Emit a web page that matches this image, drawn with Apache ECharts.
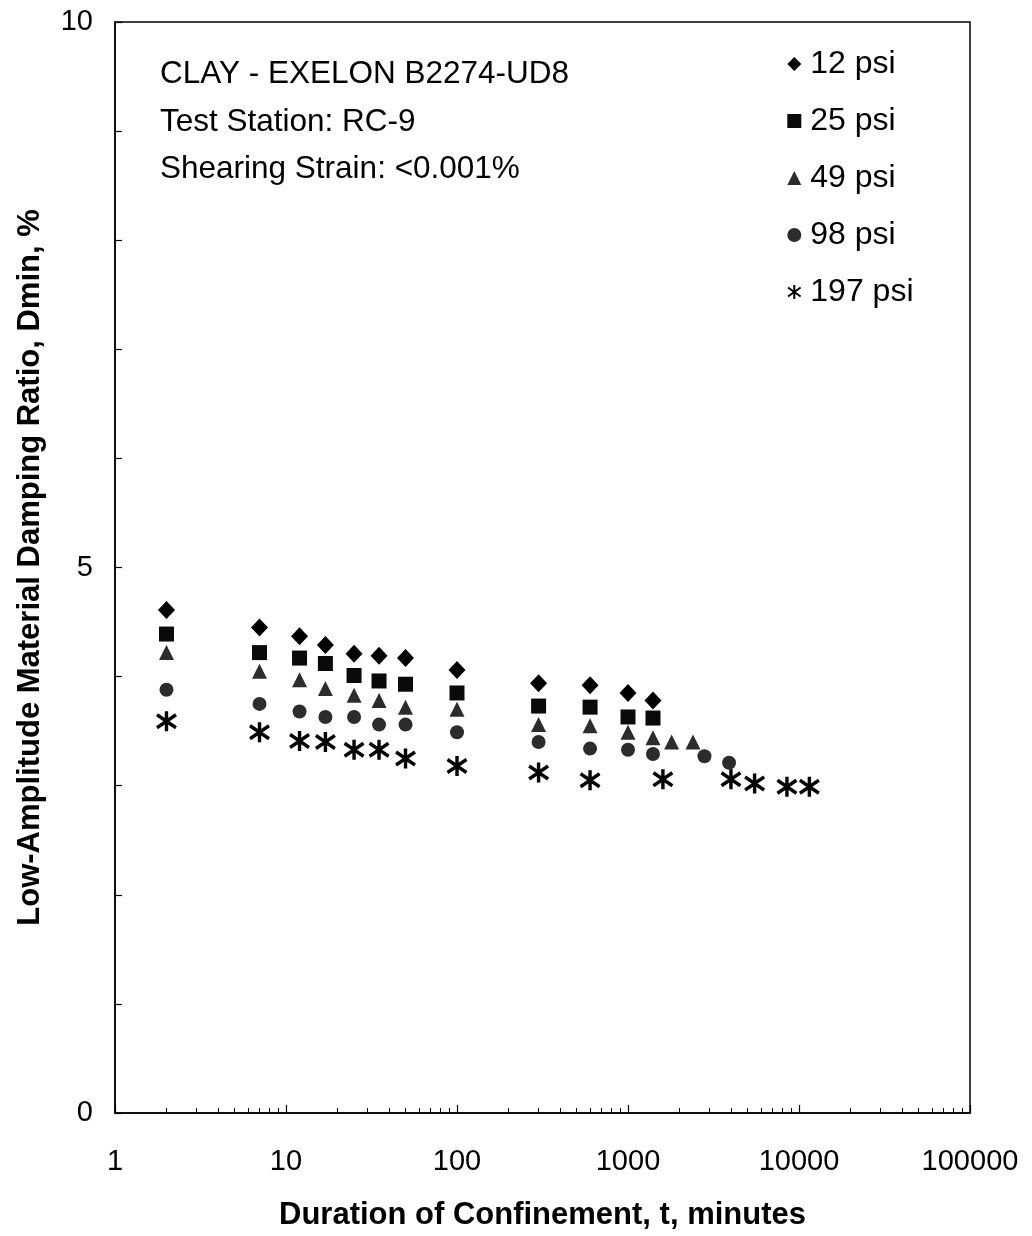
<!DOCTYPE html>
<html>
<head>
<meta charset="utf-8">
<script src="https://cdn.jsdelivr.net/npm/echarts@6/dist/echarts.min.js"></script>
<style>
  html, body { margin: 0; padding: 0; background: #fff; }
  #chart { width: 1032px; height: 1236px; }
</style>
</head>
<body>
<div id="chart"></div>
<script>
// Duration of confinement (minutes) and low-amplitude damping ratio (%) per confining pressure
const seriesNames = ['12 psi', '25 psi', '49 psi', '98 psi', '197 psi'];

const t12 = [2, 7, 12, 17, 25, 35, 50, 100, 300, 600, 1000, 1400];
const d12 = [4.61, 4.45, 4.37, 4.29, 4.21, 4.19, 4.17, 4.06, 3.94, 3.92, 3.85, 3.78];

const t25 = [2, 7, 12, 17, 25, 35, 50, 100, 300, 600, 1000, 1400];
const d25 = [4.39, 4.22, 4.17, 4.12, 4.01, 3.96, 3.93, 3.85, 3.73, 3.72, 3.63, 3.62];

const t49 = [2, 7, 12, 17, 25, 35, 50, 100, 300, 600, 1000, 1400, 1800, 2400];
const d49 = [4.22, 4.05, 3.97, 3.89, 3.83, 3.78, 3.72, 3.70, 3.56, 3.55, 3.49, 3.44, 3.40, 3.40];

const t98 = [2, 7, 12, 17, 25, 35, 50, 100, 300, 600, 1000, 1400, 2800, 3900];
const d98 = [3.88, 3.75, 3.68, 3.63, 3.63, 3.56, 3.56, 3.49, 3.40, 3.34, 3.33, 3.29, 3.27, 3.21];

const t197 = [2, 7, 12, 17, 25, 35, 50, 100, 300, 600, 1600, 4000, 5500, 8500, 11500];
const d197 = [3.59, 3.49, 3.41, 3.40, 3.33, 3.33, 3.25, 3.18, 3.12, 3.05, 3.06, 3.06, 3.02, 2.99, 2.99];

const noteLines = ['CLAY - EXELON B2274-UD8', 'Test Station: RC-9', 'Shearing Strain: <0.001%'];
const xTitle = 'Duration of Confinement, t, minutes';
const yTitle = 'Low-Amplitude Material Damping Ratio, Dmin, %';

// minor tick positions (2..9 of every decade), expressed as log10 exponents
const minorTickExp = [];
for (let e = 0; e < 5; e++) {
  for (let m = 2; m <= 9; m++) minorTickExp.push(Math.log10(m * Math.pow(10, e)));
}

const pair = (xs, ys) => xs.map((x, i) => [x, ys[i]]);

const FONT = 'Liberation Sans, Arial, sans-serif';
// six-armed asterisk: one vertical stroke and two steep diagonals
const asterisk = 'path://M10,0L10,20M1,3.5L19,16.5M1,16.5L19,3.5';

const chart = echarts.init(document.getElementById('chart'), null, { renderer: 'canvas' });

chart.setOption({
  backgroundColor: '#fff',
  animation: false,
  textStyle: { fontFamily: FONT, color: '#000' },
  title: {
    text: noteLines.join('\n'),
    left: 155,
    top: 46,
    textStyle: { fontFamily: FONT, fontSize: 31.5, fontWeight: 'normal', color: '#000', lineHeight: 47.5 }
  },
  legend: {
    orient: 'vertical',
    left: 782,
    top: 42,
    itemWidth: 14,
    itemHeight: 14,
    itemGap: 23,
    data: seriesNames,
    textStyle: { fontFamily: FONT, fontSize: 32, color: '#000', lineHeight: 34, padding: [0, 0, 0, 4] }
  },
  grid: {
    left: 115, right: 62, top: 22, bottom: 118,
    show: true, borderColor: '#000', borderWidth: 1.5, backgroundColor: 'transparent'
  },
  xAxis: [
    {
      type: 'log',
      logBase: 10,
      min: 1,
      max: 100000,
      position: 'bottom',
      name: xTitle,
      nameLocation: 'middle',
      nameGap: 87,
      nameMoveOverlap: false,
      nameTextStyle: { fontFamily: FONT, fontSize: 31, fontWeight: 'bold', color: '#000' },
      axisLine: { show: true, lineStyle: { color: '#000', width: 1.5 } },
      axisTick: { show: true, inside: true, length: 8, lineStyle: { color: '#000', width: 1.2 } },
      axisLabel: {
        fontFamily: FONT, fontSize: 29, color: '#000', margin: 34,
        formatter: v => String(Math.round(v))
      },
      splitLine: { show: false },
      minorTick: { show: false }
    },
    {
      type: 'value',
      min: 0,
      max: 5,
      position: 'bottom',
      axisLine: { show: false },
      axisTick: { show: true, inside: true, length: 5, customValues: minorTickExp, lineStyle: { color: '#000', width: 1 } },
      axisLabel: { show: false },
      splitLine: { show: false }
    }
  ],
  yAxis: {
    type: 'value',
    min: 0,
    max: 10,
    interval: 1,
    name: yTitle,
    nameLocation: 'middle',
    nameGap: 69,
    nameMoveOverlap: false,
    nameTextStyle: { fontFamily: FONT, fontSize: 31, fontWeight: 'bold', color: '#000' },
    axisLine: { show: true, lineStyle: { color: '#000', width: 1.5 } },
    axisTick: { show: true, inside: true, length: 7, lineStyle: { color: '#000', width: 1.2 } },
    axisLabel: {
      fontFamily: FONT, fontSize: 29, color: '#000', margin: 22,
      formatter: v => (v % 5 === 0 ? String(v) : '')
    },
    splitLine: { show: false }
  },
  series: [
    {
      name: seriesNames[0], type: 'scatter', data: pair(t12, d12),
      symbol: 'diamond', symbolSize: [17, 18],
      itemStyle: { color: '#000', opacity: 1 }
    },
    {
      name: seriesNames[1], type: 'scatter', data: pair(t25, d25),
      symbol: 'rect', symbolSize: 15,
      itemStyle: { color: '#0a0a0a', opacity: 1 }
    },
    {
      name: seriesNames[2], type: 'scatter', data: pair(t49, d49),
      symbol: 'triangle', symbolSize: [15, 15],
      itemStyle: { color: '#2c2c2c', opacity: 1 }
    },
    {
      name: seriesNames[3], type: 'scatter', data: pair(t98, d98),
      symbol: 'circle', symbolSize: 14,
      itemStyle: { color: '#2c2c2c', opacity: 1 }
    },
    {
      name: seriesNames[4], type: 'scatter', data: pair(t197, d197),
      symbol: asterisk, symbolSize: [19, 20],
      itemStyle: { color: 'transparent', borderColor: '#000', borderWidth: 3.5, opacity: 1 }
    }
  ]
});
</script>
</body>
</html>
